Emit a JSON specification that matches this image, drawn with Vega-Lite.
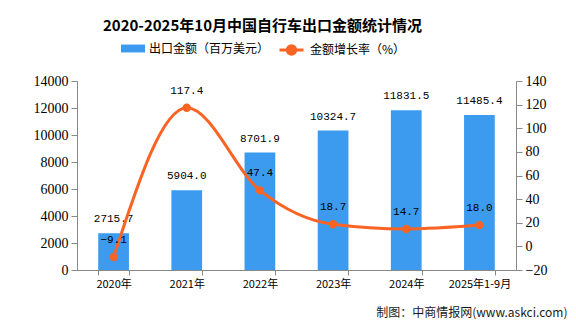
{
  "$schema": "https://vega.github.io/schema/vega-lite/v6.json",
  "autosize": {"type": "none"},
  "width": 439,
  "height": 189,
  "padding": {"left": 77, "top": 81, "right": 60, "bottom": 54},
  "background": "white",
  "title": {
    "text": "2020-2025年10月中国自行车出口金额统计情况",
    "font": "Noto Sans CJK SC",
    "fontSize": 15,
    "fontWeight": "bold",
    "color": "#000000",
    "anchor": "middle",
    "frame": "group",
    "offset": 3,
    "dx": -34
  },
  "data": {
    "values": [
      {"year": "2020年", "amount": 2715.7, "rate": -9.1, "s1": "出口金额（百万美元）", "s2": "金额增长率（%）"},
      {"year": "2021年", "amount": 5904.0, "rate": 117.4, "s1": "出口金额（百万美元）", "s2": "金额增长率（%）"},
      {"year": "2022年", "amount": 8701.9, "rate": 47.4, "s1": "出口金额（百万美元）", "s2": "金额增长率（%）"},
      {"year": "2023年", "amount": 10324.7, "rate": 18.7, "s1": "出口金额（百万美元）", "s2": "金额增长率（%）"},
      {"year": "2024年", "amount": 11831.5, "rate": 14.7, "s1": "出口金额（百万美元）", "s2": "金额增长率（%）"},
      {"year": "2025年1-9月", "amount": 11485.4, "rate": 18.0, "s1": "出口金额（百万美元）", "s2": "金额增长率（%）"}
    ]
  },
  "encoding": {
    "x": {
      "field": "year",
      "type": "nominal",
      "sort": null,
      "scale": {"paddingInner": 0.58, "paddingOuter": 0.29},
      "axis": {
        "title": "制图：中商情报网(www.askci.com)",
        "titleFont": "Noto Sans CJK SC",
        "titleFontSize": 12,
        "titleFontWeight": "normal",
        "titleColor": "#1a1a1a",
        "titleAnchor": "end",
        "titleAlign": "right",
        "titleBaseline": "middle",
        "titleX": 490,
        "titleY": 42,
        "labelAngle": 0,
        "labelFont": "Noto Sans CJK SC",
        "labelFontSize": 11,
        "labelColor": "#000000",
        "labelPadding": 3,
        "tickBand": "extent",
        "tickSize": 5,
        "tickColor": "#888888",
        "domainColor": "#888888",
        "grid": false
      }
    }
  },
  "layer": [
    {
      "encoding": {
        "y": {
          "field": "amount",
          "type": "quantitative",
          "scale": {"domain": [0, 14000]},
          "axis": {
            "orient": "left",
            "title": null,
            "format": "d",
            "values": [0, 2000, 4000, 6000, 8000, 10000, 12000, 14000],
            "labelFont": "Liberation Serif",
            "labelFontSize": 14,
            "labelColor": "#000000",
            "labelPadding": 3,
            "tickSize": 6,
            "tickColor": "#888888",
            "domainColor": "#888888",
            "grid": false
          }
        }
      },
      "layer": [
        {
          "mark": {"type": "bar"},
          "encoding": {
            "fill": {
              "field": "s1",
              "type": "nominal",
              "scale": {"range": ["#3d9bef"]},
              "legend": {
                "title": null,
                "orient": "none",
                "legendX": 44,
                "legendY": -44.5,
                "padding": 0,
                "symbolType": "M-1,-0.33L1,-0.33L1,0.33L-1,0.33Z",
                "symbolSize": 576,
                "symbolStrokeWidth": 0,
                "labelFont": "Noto Sans CJK SC",
                "labelFontSize": 12,
                "labelColor": "#000000",
                "labelOffset": 4
              }
            }
          }
        },
        {
          "mark": {"type": "text", "baseline": "middle", "dy": -14, "font": "Liberation Mono", "fontSize": 11, "color": "#000000"},
          "encoding": {"text": {"field": "amount", "type": "quantitative", "format": ".1f"}}
        }
      ]
    },
    {
      "encoding": {
        "y": {
          "field": "rate",
          "type": "quantitative",
          "scale": {"domain": [-20, 140]},
          "axis": {
            "orient": "right",
            "title": null,
            "values": [-20, 0, 20, 40, 60, 80, 100, 120, 140],
            "labelFont": "Liberation Serif",
            "labelFontSize": 14,
            "labelColor": "#000000",
            "labelPadding": 3,
            "tickSize": 6,
            "tickColor": "#888888",
            "domainColor": "#888888",
            "grid": false
          }
        }
      },
      "layer": [
        {
          "mark": {"type": "line", "interpolate": "monotone", "strokeWidth": 3},
          "encoding": {
            "stroke": {
              "field": "s2",
              "type": "nominal",
              "scale": {"range": ["#f96424"]},
              "legend": {
                "title": null,
                "orient": "none",
                "legendX": 201,
                "legendY": -44.5,
                "padding": 0,
                "symbolType": "M-1,0L1,0M-0.36,0A0.36,0.36,0,1,0,0.36,0A0.36,0.36,0,1,0,-0.36,0Z",
                "symbolSize": 576,
                "symbolStrokeWidth": 3,
                "labelFont": "Noto Sans CJK SC",
                "labelFontSize": 12,
                "labelColor": "#000000",
                "labelOffset": 5,
                "encode": {"symbols": {"update": {"fill": {"value": "#f96424"}, "stroke": {"value": "#f96424"}}}}
              }
            }
          }
        },
        {
          "mark": {"type": "point", "filled": true, "color": "#f96424", "size": 70, "opacity": 1}
        },
        {
          "mark": {"type": "text", "baseline": "middle", "dy": -17, "font": "Liberation Mono", "fontSize": 11, "color": "#000000"},
          "encoding": {"text": {"field": "rate", "type": "quantitative", "format": ".1f"}}
        }
      ]
    }
  ],
  "resolve": {"scale": {"y": "independent"}},
  "config": {
    "view": {"stroke": null}
  }
}
